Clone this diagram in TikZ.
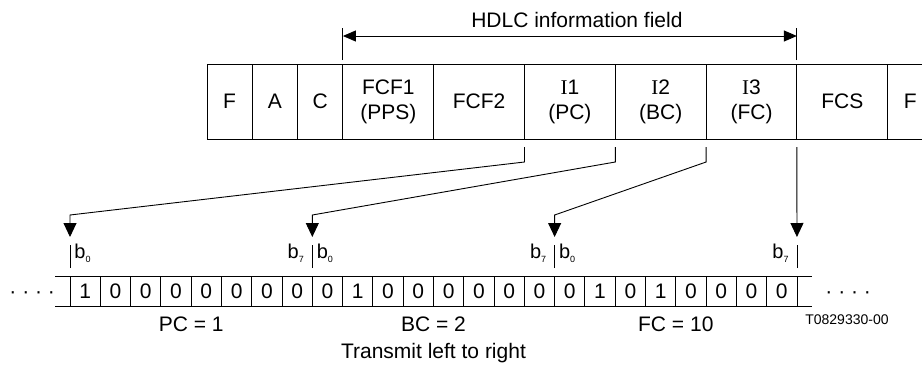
\documentclass[tikz,border=0pt]{standalone}
\usepackage{fontspec}
\setmainfont{Liberation Sans}
\newfontfamily\serifI{Liberation Serif}
\usetikzlibrary{positioning,arrows.meta}
\newcommand{\fieldfont}{\fontsize{21}{25}\selectfont}
\newcommand{\bitlab}[1]{b\raisebox{-4pt}{\fontsize{9}{9}\selectfont #1}}
\tikzset{
  field/.style={draw, minimum height=75pt, inner sep=0pt, outer sep=0pt,
    align=center, font=\fieldfont},
  narrow/.style={field, minimum width=45.3pt},
  wide/.style={field, minimum width=90.8pt},
  bitcell/.style={draw, minimum width=30.29pt, minimum height=30pt,
    inner sep=0pt, outer sep=0pt, font=\fieldfont},
  feed/.style={-{Triangle[length=14pt,width=13pt]}},
  blabel/.style={inner sep=0pt, font=\fontsize{20}{20}\selectfont},
}
\begin{document}
\begin{tikzpicture}[x=1pt,y=-1pt,line width=0.9pt]
  \useasboundingbox (0,0) rectangle (922,367);
  \clip (0,0) rectangle (922,367);
  % HDLC frame
  \node[narrow] (fF1) at (229.65,101.5) {F};
  \node[narrow, right=0pt of fF1] (fA) {A};
  \node[narrow, right=0pt of fA] (fC) {C};
  \node[wide, right=0pt of fC] (fcf1) {FCF1\\(PPS)};
  \node[wide, right=0pt of fcf1] (fcf2) {FCF2};
  \node[wide, right=0pt of fcf2] (fI1) {{\serifI I}1\\(PC)};
  \node[wide, right=0pt of fI1] (fI2) {{\serifI I}2\\(BC)};
  \node[wide, right=0pt of fI2] (fI3) {{\serifI I}3\\(FC)};
  \node[wide, right=0pt of fI3] (fcs) {FCS};
  \node[narrow, right=0pt of fcs] (fF2) {F};
  % information field span
  \draw ([yshift=4pt]fcf1.north west) -- ([yshift=36pt]fcf1.north west);
  \draw ([yshift=4pt]fcs.north west) -- ([yshift=36pt]fcs.north west);
  \draw[{Triangle[length=13pt,width=11pt]}-{Triangle[length=13pt,width=11pt]}]
    ([yshift=28pt]fcf1.north west) -- ([yshift=28pt]fcs.north west)
    node[midway, above=8pt, xshift=7pt, inner sep=0pt, font=\fieldfont] (hdlc)
    {HDLC information field};
  % transmitted bits
  \foreach \b [count=\i] in {1,0,0,0,0,0,0,0,0,1,0,0,0,0,0,0,0,1,0,1,0,0,0,0}
    \node[bitcell] (bit\i) at ({70+30.29*(\i-0.5)},291) {\b};
  \draw ([xshift=-15pt]bit1.north west) -- ([xshift=15pt]bit24.north east);
  \draw ([xshift=-15pt]bit1.south west) -- ([xshift=15pt]bit24.south east);
  \node[font=\fieldfont, anchor=base west, inner sep=0pt] (ldots) at (9,298) {· · · ·};
  \node[font=\fieldfont, anchor=base west, inner sep=0pt] (rdots) at (825,298) {· · · ·};
  % octet boundaries
  \coordinate (m1) at (bit1.north west);
  \coordinate (m2) at (bit8.north east);
  \coordinate (m3) at (bit16.north east);
  \coordinate (m4) at (bit24.north east);
  \foreach \m in {m1,m2,m3,m4}
    \draw ([yshift=8pt]\m) -- ([yshift=31pt]\m);
  \foreach \m in {m1,m2,m3}
    \node[blabel, anchor=base west] (lo\m) at ([xshift=4pt,yshift=18pt]\m) {\bitlab{0}};
  \foreach \m in {m2,m3,m4}
    \node[blabel, anchor=base east] (hi\m) at ([xshift=-8pt,yshift=18pt]\m) {\bitlab{7}};
  % field to octet connectors
  \draw[feed] ([yshift=-8pt]fI1.south west) -- ++(0,15)
    -- ([yshift=61pt]m1) -- ([yshift=39pt]m1);
  \draw[feed] ([yshift=-8pt]fI2.south west) -- ++(0,15)
    -- ([yshift=61pt]m2) -- ([yshift=39pt]m2);
  \draw[feed] ([yshift=-8pt]fI3.south west) -- ++(0,15)
    -- ([yshift=61pt]m3) -- ([yshift=39pt]m3);
  \draw[feed] ([yshift=-8pt]fcs.south west) -- ([yshift=39pt]m4);
  % values and captions
  \node[font=\fieldfont] (pc) at ([yshift=-18pt]bit4.south east) {PC = 1};
  \node[font=\fieldfont] (bc) at ([yshift=-18pt]bit12.south east) {BC = 2};
  \node[font=\fieldfont] (fc) at ([yshift=-18pt]bit20.south east) {FC = 10};
  \node[font=\fieldfont] (dir) at ([yshift=-47pt]bit12.south east) {Transmit left to right};
  \node[font=\fontsize{14}{14}\selectfont] (ref) at ([xshift=50pt,yshift=-14pt]bit24.south east)
    {T0829330-00};
\end{tikzpicture}
\end{document}
